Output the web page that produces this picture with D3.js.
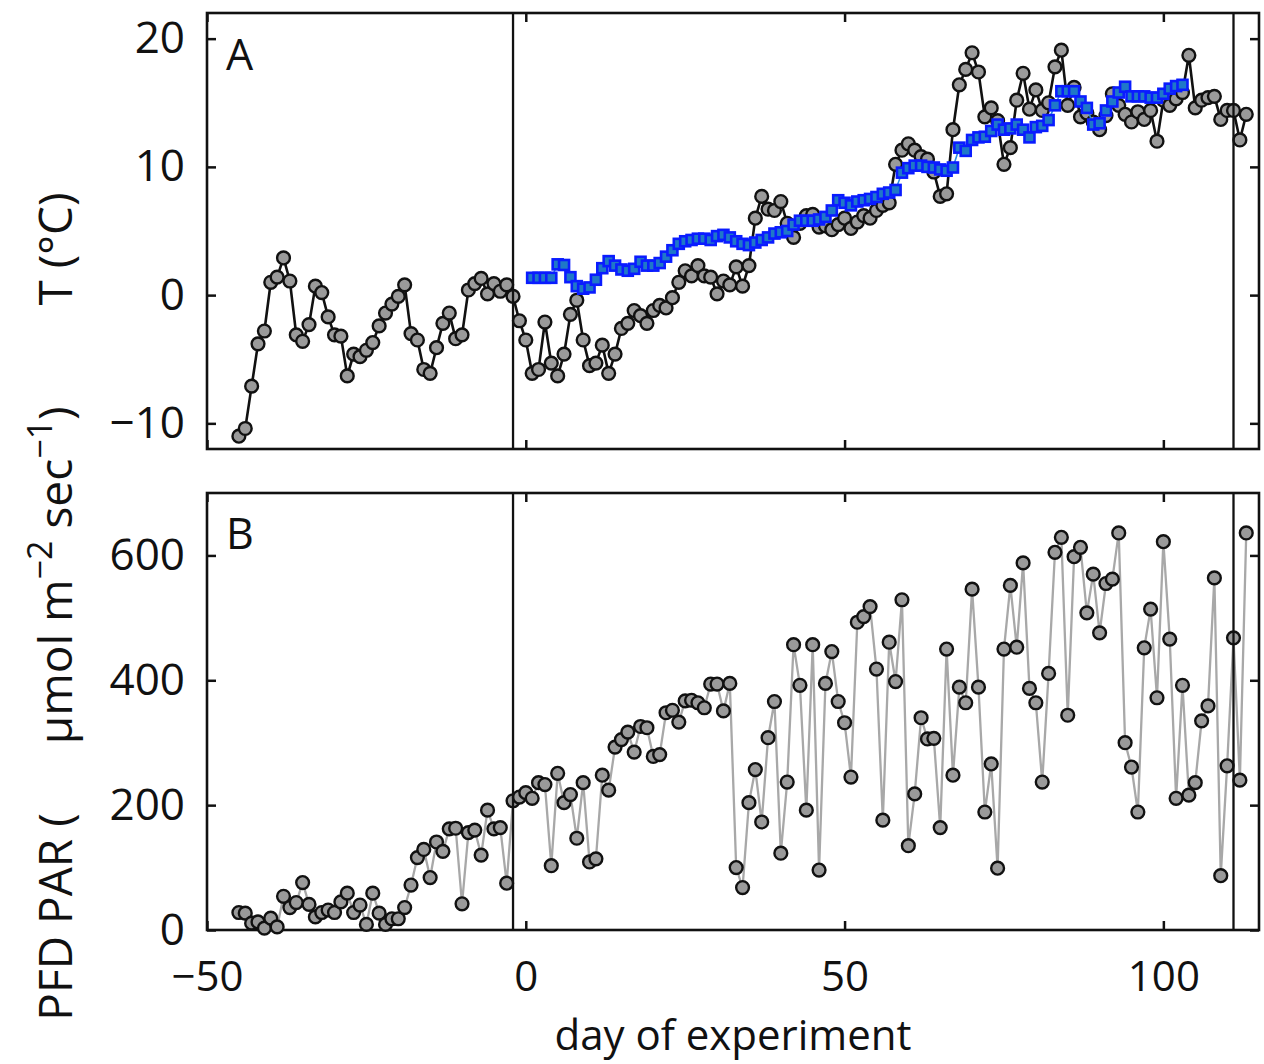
<!DOCTYPE html>
<html>
<head>
<meta charset="utf-8">
<script src="https://cdn.jsdelivr.net/npm/d3@7"></script>
<style>
  html, body { margin: 0; padding: 0; background: #fff; }
  svg { display: block; }
  text { font-family: "Open Sans", "Noto Sans", sans-serif; fill: #111; }
</style>
</head>
<body>
<svg id="chart" width="1264" height="1064"></svg>
<script>
// ---------------- DATA ----------------
const firstDay = -45;           // first day of the air/PAR record
const blueFirstDay = 1;         // first day of the blue (water) temperature record

// Panel A: air temperature (black circles), days -45 .. 113
const airTemp = [
  -11.0, -10.4, -7.1, -3.8, -2.8, 1.0, 1.4, 2.9, 1.1, -3.1,
  -3.6, -2.3, 0.7, 0.2, -1.7, -3.1, -3.2, -6.3, -4.6, -4.8,
  -4.3, -3.7, -2.4, -1.4, -0.7, -0.1, 0.8, -3.0, -3.5, -5.8,
  -6.1, -4.1, -2.2, -1.4, -3.4, -3.1, 0.4, 0.9, 1.3, 0.1,
  0.9, 0.3, 0.8, -0.1, -2.0, -3.5, -6.1, -5.8, -2.1, -5.3,
  -6.3, -4.6, -1.5, -0.4, -3.5, -5.5, -5.3, -3.9, -6.1, -4.6,
  -2.6, -2.2, -1.2, -1.6, -2.2, -1.2, -0.8, -1.0, -0.2, 1.0,
  1.9, 1.5, 2.3, 1.5, 1.4, 0.1, 1.1, 0.8, 2.2, 0.7,
  2.3, 6.0, 7.7, 6.7, 6.6, 7.3, 5.6, 4.5, 5.6, 6.2,
  6.3, 5.3, 5.4, 5.1, 5.5, 6.0, 5.2, 5.7, 6.2, 6.0,
  6.6, 7.0, 7.2, 10.2, 11.3, 11.8, 11.3, 10.8, 10.6, 9.6,
  7.7, 7.9, 12.9, 16.4, 17.6, 18.9, 17.4, 13.9, 14.6, 13.6,
  10.2, 11.5, 15.2, 17.3, 14.5, 16.0, 14.4, 15.0, 17.8, 19.1,
  14.8, 16.2, 13.9, 14.2, 13.5, 12.9, 14.0, 15.7, 14.8, 14.1,
  13.5, 14.3, 13.7, 14.4, 12.0, 15.2, 14.8, 15.3, 15.8, 18.7,
  14.6, 15.2, 15.4, 15.5, 13.7, 14.4, 14.4, 12.1, 14.1
];

// Panel A: water temperature (blue squares), days 1 .. 103
const waterTemp = [
  1.35, 1.35, 1.35, 1.35, 2.4, 2.35, 1.4, 0.7, 0.5, 0.6,
  1.2, 2.1, 2.65, 2.3, 2.0, 1.9, 2.05, 2.6, 2.3, 2.3,
  2.5, 3.0, 3.5, 4.0, 4.2, 4.3, 4.4, 4.4, 4.3, 4.6,
  4.7, 4.5, 4.2, 4.0, 3.9, 4.1, 4.3, 4.5, 4.8, 4.9,
  5.0, 5.5, 5.8, 5.8, 5.8, 5.9, 6.1, 6.6, 7.4, 7.2,
  7.0, 7.3, 7.4, 7.5, 7.65, 7.9, 8.0, 8.2, 9.55, 9.9,
  10.1, 10.1, 10.0, 9.95, 9.8, 9.7, 9.95, 11.5, 11.25, 12.1,
  12.3, 12.35, 12.8, 13.3, 12.9, 13.0, 13.3, 12.9, 12.3, 13.1,
  13.2, 13.65, 14.8, 15.9, 15.9, 15.9, 15.1, 14.6, 13.3, 13.4,
  14.4, 15.1, 15.8, 16.25, 15.5, 15.5, 15.5, 15.4, 15.4, 15.7,
  16.1, 16.3, 16.4
];

// Panel B: PFD PAR, days -45 .. 113
const parValues = [
  28, 27, 11, 13, 3, 19, 5, 54, 36, 44,
  76, 41, 21, 28, 32, 28, 45, 59, 28, 40,
  9, 59, 27, 9, 18, 18, 36, 72, 116, 129,
  84, 141, 126, 162, 163, 42, 156, 160, 120, 192,
  162, 164, 75, 207, 213, 220, 211, 236, 233, 103,
  251, 204, 217, 147, 236, 109, 114, 248, 224, 293,
  305, 317, 285, 326, 324, 278, 281, 348, 352, 333,
  367, 368, 364, 356, 394, 394, 351, 395, 100, 68,
  204, 257, 173, 308, 366, 123, 237, 457, 392, 192,
  457, 96, 395, 446, 366, 332, 245, 493, 502, 518,
  418, 176, 461, 398, 529, 135, 218, 340, 306, 307,
  164, 450, 248, 389, 364, 546, 389, 189, 266, 99,
  450, 552, 453, 588, 387, 364, 237, 411, 605, 629,
  344, 598, 613, 508, 570, 476, 555, 562, 636, 300,
  261, 189, 452, 514, 372, 622, 466, 211, 392, 216,
  236, 335, 359, 564, 87, 263, 468, 240, 636
];

const markerDays = [-2, 111];                 // vertical reference lines
const xTicks = [-50, 0, 50, 100];
const xTickLabels = ["\u221250", "0", "50", "100"];
const yTicksA = [-10, 0, 10, 20];
const yTickLabelsA = ["\u221210", "0", "10", "20"];
const yTicksB = [0, 200, 400, 600];
const yTickLabelsB = ["0", "200", "400", "600"];
const xDomain = [-50, 115];
const yDomainA = [-12, 22];
const yDomainB = [0, 700];

// ---------------- LAYOUT ----------------
const svg = d3.select("#chart");
const left = 207, right = 1259;
const panelA = { top: 13, bottom: 449 };
const panelB = { top: 493, bottom: 930 };

const x = d3.scaleLinear().domain(xDomain).range([left, right]);
const yA = d3.scaleLinear().domain(yDomainA).range([panelA.bottom, panelA.top]);
const yB = d3.scaleLinear().domain(yDomainB).range([panelB.bottom, panelB.top]);

const airData = airTemp.map((v, i) => ({ d: firstDay + i, v }));
const waterData = waterTemp.map((v, i) => ({ d: blueFirstDay + i, v }));
const parData = parValues.map((v, i) => ({ d: firstDay + i, v }));

const TICK = 9;
const tickFont = 44;
const xTickFont = 42;
const labelFont = 46;

function drawFrame(yScale, panel, yTicks, yLabels, showXLabels) {
  const g = svg.append("g");
  const la = g.append("g").attr("transform", `translate(${left},0)`)
    .call(d3.axisLeft(yScale).tickValues(yTicks).tickSize(-TICK).tickPadding(22)
      .tickFormat((d, i) => yLabels[i]));
  const ra = g.append("g").attr("transform", `translate(${right},0)`)
    .call(d3.axisRight(yScale).tickValues(yTicks).tickSize(-TICK).tickFormat(""));
  const ba = g.append("g").attr("transform", `translate(0,${panel.bottom})`)
    .call(d3.axisBottom(x).tickValues(xTicks).tickSize(-TICK).tickPadding(31)
      .tickFormat((d, i) => showXLabels ? xTickLabels[i] : ""));
  const ta = g.append("g").attr("transform", `translate(0,${panel.top})`)
    .call(d3.axisTop(x).tickValues(xTicks).tickSize(-TICK).tickFormat(""));
  [la, ra, ba, ta].forEach(a => {
    a.select(".domain").remove();
    a.selectAll(".tick line").attr("stroke", "#111").attr("stroke-width", 2.5);
    a.selectAll(".tick text").attr("fill", "#111")
      .style("font-family", '"Open Sans", sans-serif');
  });
  la.selectAll(".tick text").attr("font-size", tickFont);
  ba.selectAll(".tick text").attr("font-size", xTickFont);
  g.append("rect")
    .attr("x", left).attr("y", panel.top)
    .attr("width", right - left).attr("height", panel.bottom - panel.top)
    .attr("fill", "none").attr("stroke", "#111").attr("stroke-width", 2.6);
  return g;
}

function drawMarkers(panel) {
  svg.append("g").selectAll("line").data(markerDays).join("line")
    .attr("x1", d => x(d)).attr("x2", d => x(d))
    .attr("y1", panel.top).attr("y2", panel.bottom)
    .attr("stroke", "#111").attr("stroke-width", 2.3);
}

// ---------------- PANEL A ----------------
drawFrame(yA, panelA, yTicksA, yTickLabelsA, false);

const lineA = d3.line().x(d => x(d.d)).y(d => yA(d.v));
svg.append("path").datum(airData).attr("d", lineA)
  .attr("fill", "none").attr("stroke", "#111").attr("stroke-width", 2.6);
svg.append("g").selectAll("circle").data(airData).join("circle")
  .attr("cx", d => x(d.d)).attr("cy", d => yA(d.v)).attr("r", 6.4)
  .attr("fill", "#9a9a9a").attr("stroke", "#111").attr("stroke-width", 2.4);

svg.append("path").datum(waterData).attr("d", lineA)
  .attr("fill", "none").attr("stroke", "#2a8ee0").attr("stroke-width", 1.6);
const sq = 10;
svg.append("g").selectAll("rect").data(waterData).join("rect")
  .attr("x", d => x(d.d) - sq / 2).attr("y", d => yA(d.v) - sq / 2)
  .attr("width", sq).attr("height", sq)
  .attr("fill", "#1f78c8").attr("stroke", "#0a1cff").attr("stroke-width", 2.6);

drawMarkers(panelA);

svg.append("text").attr("x", 226).attr("y", 70).attr("font-size", 43).text("A");

// ---------------- PANEL B ----------------
drawFrame(yB, panelB, yTicksB, yTickLabelsB, true);

const lineB = d3.line().x(d => x(d.d)).y(d => yB(d.v));
svg.append("path").datum(parData).attr("d", lineB)
  .attr("fill", "none").attr("stroke", "#a8a8a8").attr("stroke-width", 2.3);
svg.append("g").selectAll("circle").data(parData).join("circle")
  .attr("cx", d => x(d.d)).attr("cy", d => yB(d.v)).attr("r", 6.4)
  .attr("fill", "#9a9a9a").attr("stroke", "#111").attr("stroke-width", 2.4);

drawMarkers(panelB);

svg.append("text").attr("x", 226).attr("y", 549).attr("font-size", 43).text("B");

// ---------------- AXIS TITLES ----------------
svg.append("text")
  .attr("transform", `translate(72,${(panelA.top + panelA.bottom) / 2 + 18}) rotate(-90)`)
  .attr("text-anchor", "middle").attr("font-size", labelFont)
  .text("T (\u00B0C)");

const lb = svg.append("text")
  .attr("transform", `translate(72,${(panelB.top + panelB.bottom) / 2 + 2}) rotate(-90)`)
  .attr("text-anchor", "middle").attr("font-size", labelFont);
lb.append("tspan").text("PFD PAR (\u2002\u2002\u2002\u03BCmol m");
lb.append("tspan").attr("dy", -20).attr("font-size", 34).text("\u22122");
lb.append("tspan").attr("dy", 20).text(" sec");
lb.append("tspan").attr("dy", -20).attr("font-size", 34).text("\u22121");
lb.append("tspan").attr("dy", 20).text(")");

svg.append("text")
  .attr("x", (left + right) / 2).attr("y", 1050)
  .attr("text-anchor", "middle").attr("font-size", 42)
  .text("day of experiment");
</script>
</body>
</html>
